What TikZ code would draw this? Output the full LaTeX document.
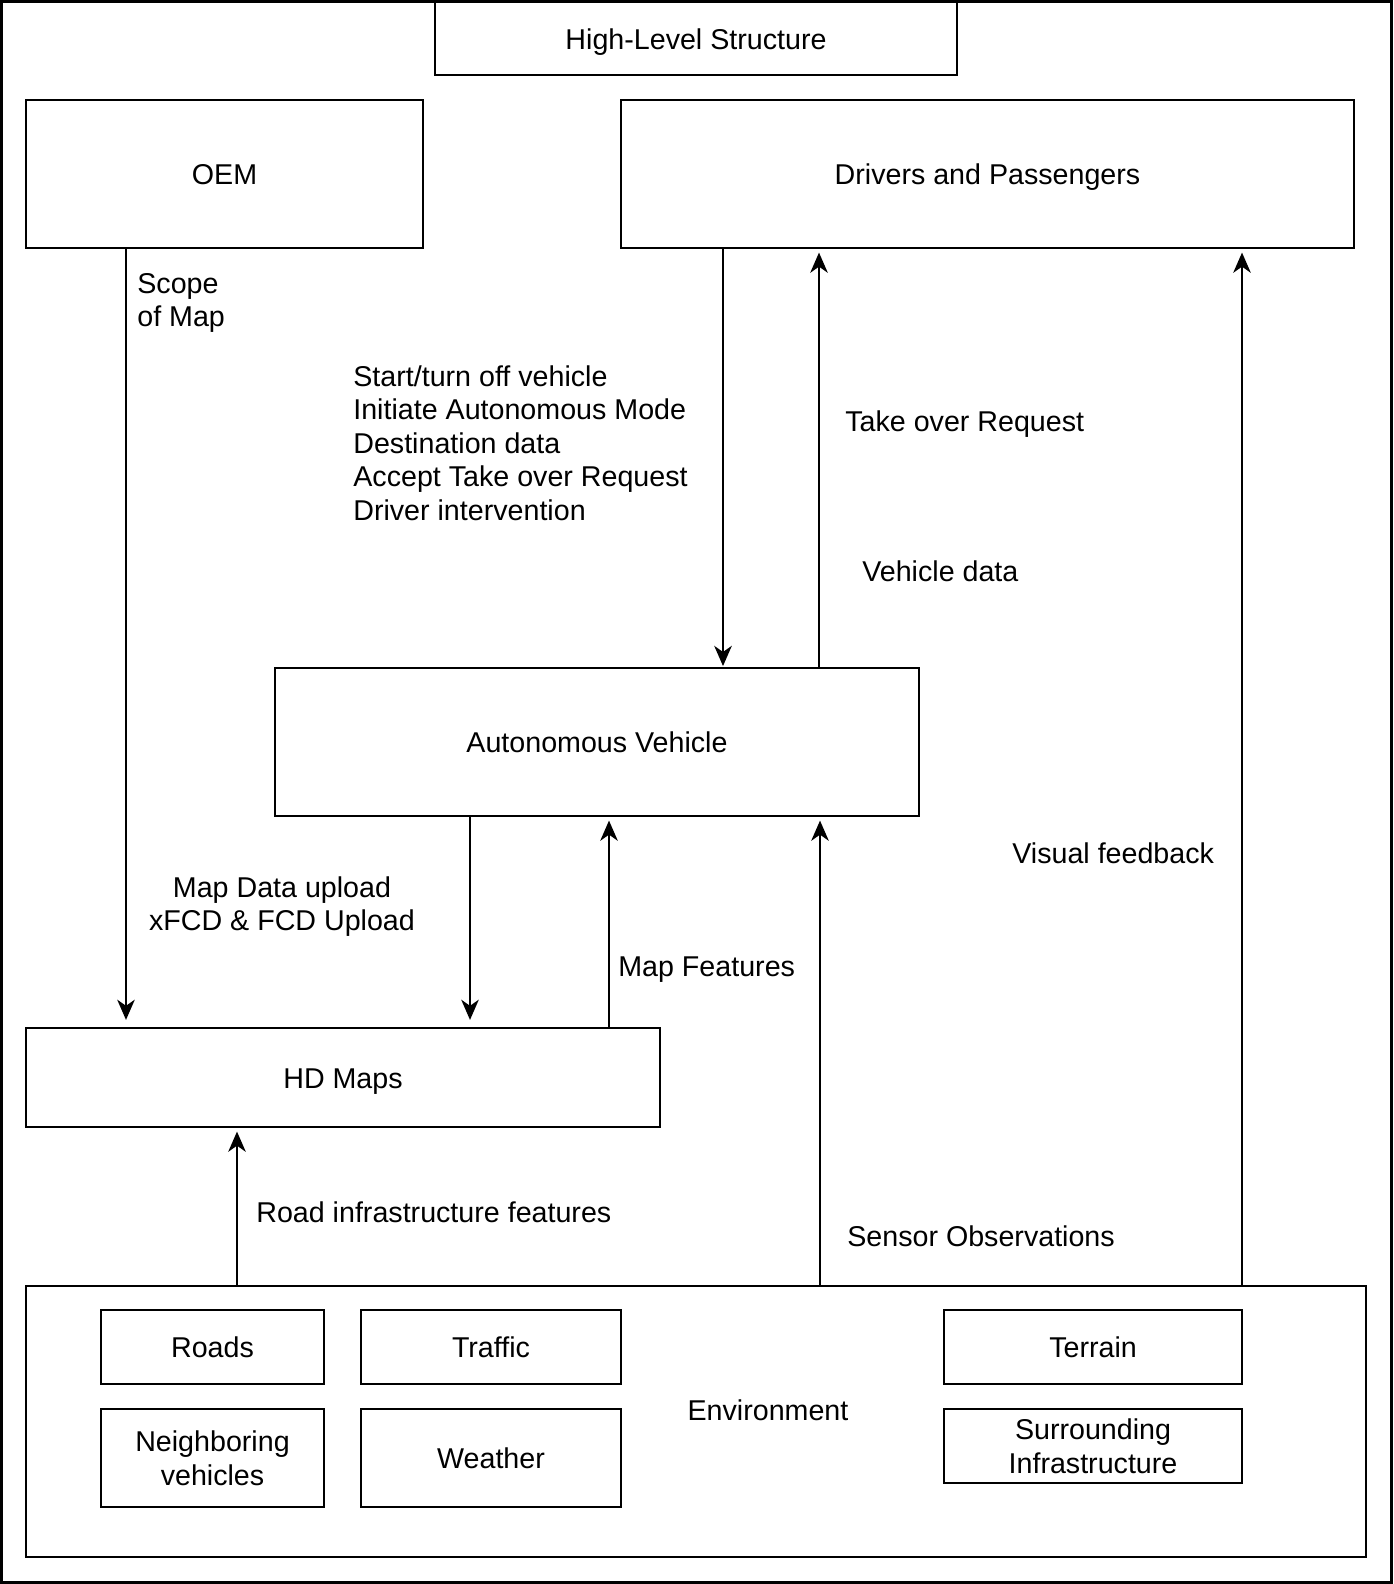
\documentclass[tikz,border=0pt]{standalone}
\usepackage{fontspec}
\setmainfont{Liberation Sans}
\usetikzlibrary{arrows.meta,positioning}

\begin{document}
\begin{tikzpicture}[
        x=0.02cm, y=-0.02cm,
        font=\fontsize{16.3}{19.1}\selectfont,
        main_box/.style={draw, rectangle, line width=1.25pt, inner sep=0pt, align=center},
        item_box/.style={draw, rectangle, line width=1.25pt, inner sep=0pt, align=center},
        one_line/.style={text height=13.8pt, text depth=1.3pt},
        flow_label/.style={anchor=west, align=left, inner sep=0pt},
        arrow/.style={-{Stealth[length=11.5pt, width=10pt, inset=3.5pt]}, line width=1pt, shorten >=2pt}
    ]
        \useasboundingbox (0,0) rectangle (1393,1584);
        \draw[line width=1.25pt] (1.5,1.5) rectangle (1391.5,1582.5);

        \node[main_box, one_line, minimum width=10.44cm, minimum height=1.46cm] (title) at (696,38.5) {High-Level Structure};
        \node[main_box, one_line, minimum width=7.94cm, minimum height=2.96cm] (oem) at (224.5,174) {OEM};
        \node[main_box, one_line, minimum width=14.66cm, minimum height=2.96cm] (drivers) at (987.5,174) {Drivers and Passengers};
        \node[main_box, one_line, minimum width=12.88cm, minimum height=2.96cm] (av) at (597,742) {Autonomous Vehicle};
        \node[main_box, one_line, minimum width=12.68cm, minimum height=1.98cm] (hd) at (343,1077.5) {HD Maps};
        \node[main_box, minimum width=26.8cm, minimum height=5.42cm] (env) at (696,1421.5) {};
        \node[one_line] (env_label) at (768,1410) {Environment};

        \node[item_box, one_line, minimum width=4.46cm, minimum height=1.48cm] (roads) at (212.5,1347) {Roads};
        \node[item_box, one_line, minimum width=5.2cm, minimum height=1.48cm] (traffic) at (491,1347) {Traffic};
        \node[item_box, minimum width=4.46cm, minimum height=1.96cm] (neigh) at (212.5,1458) {Neighboring\\vehicles};
        \node[item_box, one_line, minimum width=5.2cm, minimum height=1.96cm] (weather) at (491,1458) {Weather};
        \node[item_box, one_line, minimum width=5.96cm, minimum height=1.48cm] (terrain) at (1093,1347) {Terrain};
        \node[item_box, minimum width=5.96cm, minimum height=1.48cm] (surround) at (1093,1446) {Surrounding\\Infrastructure};

        % arrow columns
        \coordinate (c_scope) at (126,0);
        \coordinate (c_cmd) at (723,0);
        \coordinate (c_tor) at (819,0);
        \coordinate (c_upload) at (470,0);
        \coordinate (c_feat) at (609,0);
        \coordinate (c_sensor) at (820,0);
        \coordinate (c_visual) at (1242,0);
        \coordinate (c_road) at (237,0);

        \draw[arrow, shorten >=4pt] (oem.south -| c_scope) -- (hd.north -| c_scope);
        \draw[arrow, shorten >=0.5pt] (drivers.south -| c_cmd) -- (av.north -| c_cmd);
        \draw[arrow] (av.north -| c_tor) -- (drivers.south -| c_tor);
        \draw[arrow, shorten >=4pt] (av.south -| c_upload) -- (hd.north -| c_upload);
        \draw[arrow] (hd.north -| c_feat) -- (av.south -| c_feat);
        \draw[arrow] (env.north -| c_sensor) -- (av.south -| c_sensor);
        \draw[arrow] (env.north -| c_visual) -- (drivers.south -| c_visual);
        \draw[arrow] (env.north -| c_road) -- (hd.south -| c_road);

        \node[flow_label] (l_scope) at (137,303) {Scope\\of Map};
        \node[flow_label] (l_cmds) at (353,443) {Start/turn off vehicle\\Initiate Autonomous Mode\\Destination data\\Accept Take over Request\\Driver intervention};
        \node[flow_label, one_line] (l_tor) at (845,421) {Take over Request};
        \node[flow_label, one_line] (l_vdata) at (862,571) {Vehicle data};
        \node[align=center, inner sep=0pt] (l_upload) at (282,906.5) {Map Data upload\\xFCD \& FCD Upload};
        \node[flow_label, one_line] (l_feat) at (618,966) {Map Features};
        \node[flow_label, one_line] (l_visual) at (1012,853) {Visual feedback};
        \node[flow_label, one_line] (l_road) at (256,1212) {Road infrastructure features};
        \node[flow_label, one_line] (l_sensor) at (847,1236) {Sensor Observations};
    \end{tikzpicture}
\end{document}
